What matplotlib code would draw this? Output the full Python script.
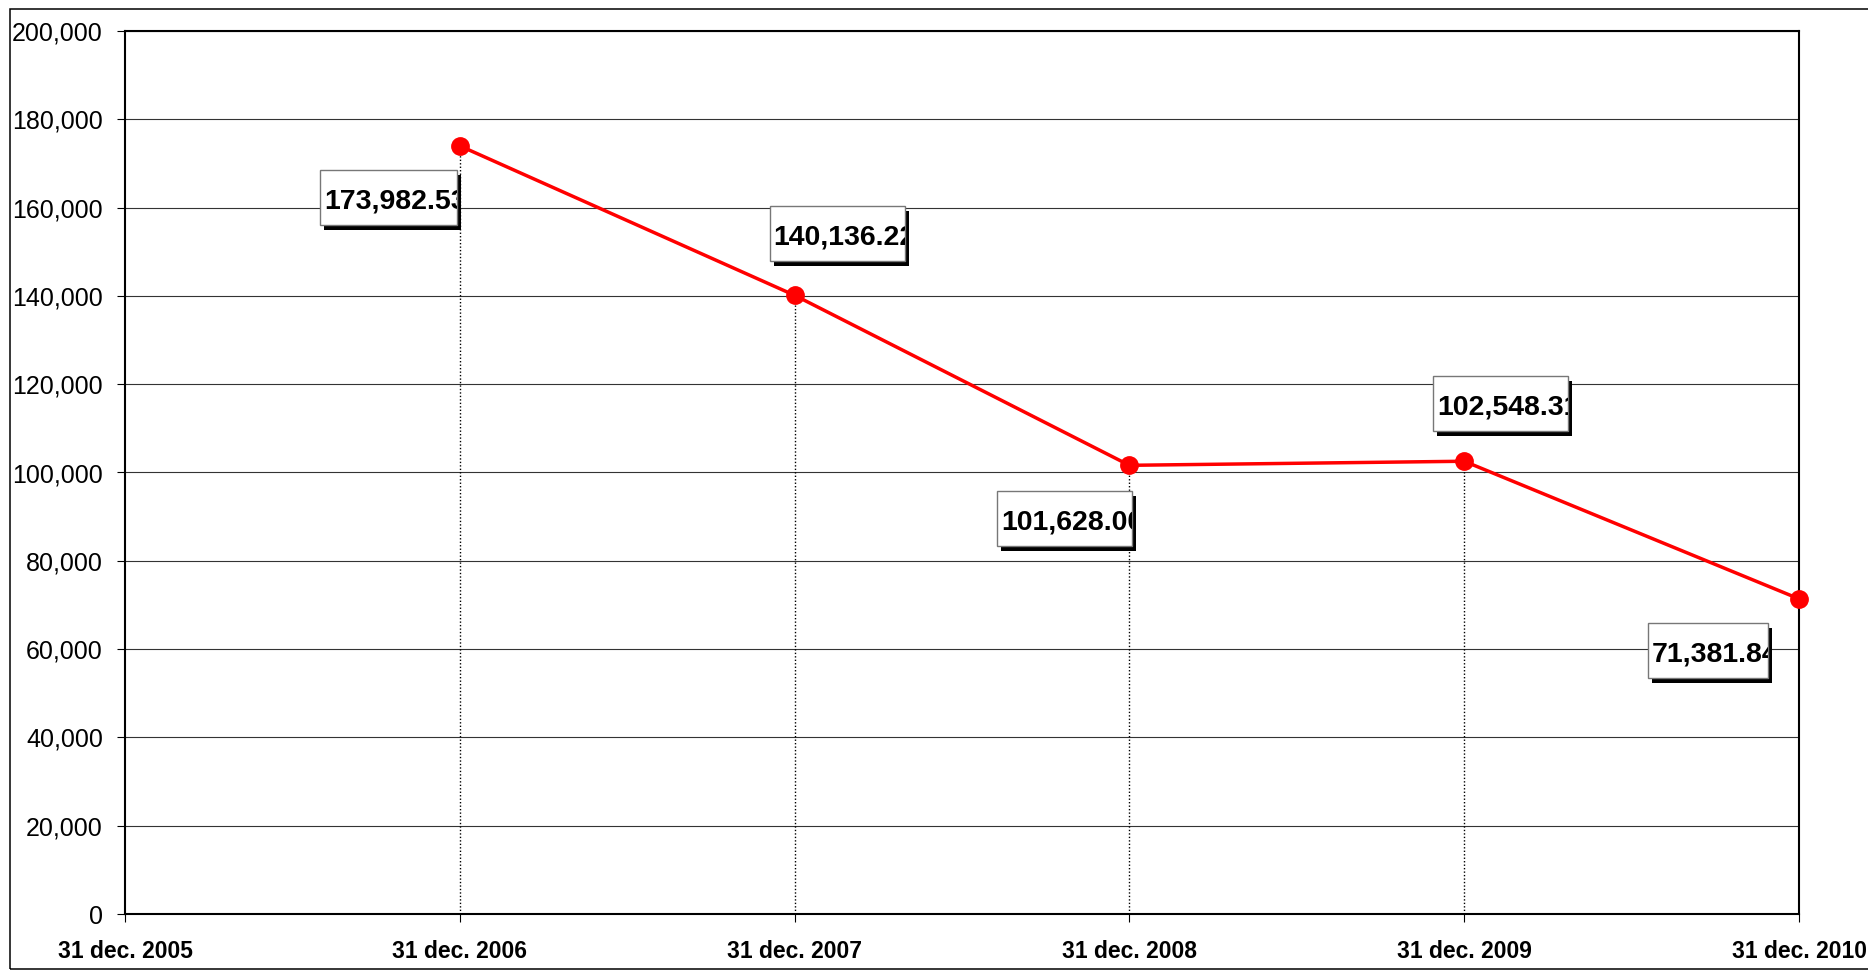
import matplotlib
matplotlib.use("Agg")
import matplotlib.pyplot as plt
from matplotlib.patches import Rectangle
from matplotlib.transforms import IdentityTransform

plt.rcParams['font.family'] = ['Liberation Sans', 'DejaVu Sans']

# Data
dates = ["31 dec. 2005", "31 dec. 2006", "31 dec. 2007",
         "31 dec. 2008", "31 dec. 2009", "31 dec. 2010"]
values = [173982.53, 140136.22, 101628.00, 102548.31, 71381.84]
value_labels = ["173,982.53", "140,136.22", "101,628.00", "102,548.31", "71,381.84"]
y_ticks = [0, 20000, 40000, 60000, 80000, 100000, 120000, 140000, 160000, 180000, 200000]

W, H = 1868, 971
fig = plt.figure(figsize=(W / 100, H / 100), dpi=100)
fig.patch.set_facecolor('white')

# outer chart-area border (right side runs past the canvas)
fig.add_artist(Rectangle((10, H - 969), W + 20, 960, transform=IdentityTransform(),
                         fill=False, edgecolor='black', linewidth=1.1))

left, right, top, bottom = 125, 1799, 31, 914
ax = fig.add_axes([left / W, (H - bottom) / H, (right - left) / W, (bottom - top) / H])

xs = list(range(1, len(values) + 1))
ax.set_xlim(0, len(dates) - 1)
ax.set_ylim(0, 200000)

ax.set_yticks(y_ticks)
ax.set_yticklabels([f"{t:,}" for t in y_ticks], fontsize=18)
ax.set_xticks(range(len(dates)))
ax.set_xticklabels(dates, fontsize=16.5, fontweight='bold')
ax.tick_params(axis='y', length=6, width=0.8, pad=10, colors='black')
ax.tick_params(axis='x', length=6, width=0.8, pad=13, colors='black')

for s in ax.spines.values():
    s.set_linewidth(1.5)
    s.set_color('black')

ax.grid(axis='y', color='#333333', linewidth=0.8)
ax.set_axisbelow(True)

# drop lines from each point to the axis
ax.vlines(xs, 0, values, colors='black', linewidth=1.0, linestyles=(0, (1, 1.5)), zorder=2)

ax.plot(xs, values, color='#ff0000', linewidth=2.5, marker='o', markersize=12.5,
        markeredgecolor='#ff0000', zorder=3, clip_on=False)

# value callouts: box offset (left, top) from the point in pixels, y downward
box_offsets = [(-140, 24), (-25, -89), (-132, 26), (-31, -85), (-151, 24)]
box_widths = [137, 135, 135, 135, 120]
box_h = 55
shadow = (4, 5)

fig.canvas.draw()
for x, v, lab, (dx, dy), bw in zip(xs, values, value_labels, box_offsets, box_widths):
    px, py = ax.transData.transform((x, v))
    bl = px + dx
    bt = py - dy
    bb = bt - box_h
    sh = Rectangle((bl + shadow[0], bb - shadow[1]), bw, box_h, transform=IdentityTransform(),
                   facecolor='black', edgecolor='none', zorder=5)
    bx = Rectangle((bl, bb), bw, box_h, transform=IdentityTransform(),
                   facecolor='white', edgecolor='#777777', linewidth=1.0, zorder=6)
    fig.add_artist(sh)
    fig.add_artist(bx)
    t = fig.text(bl + 4, bb + box_h / 2 - 1, lab, transform=IdentityTransform(),
                 fontsize=20.5, fontweight='bold', ha='left', va='center_baseline', zorder=7)
    t.set_clip_path(bx)

fig.savefig("out.png", dpi=100, facecolor='white')
